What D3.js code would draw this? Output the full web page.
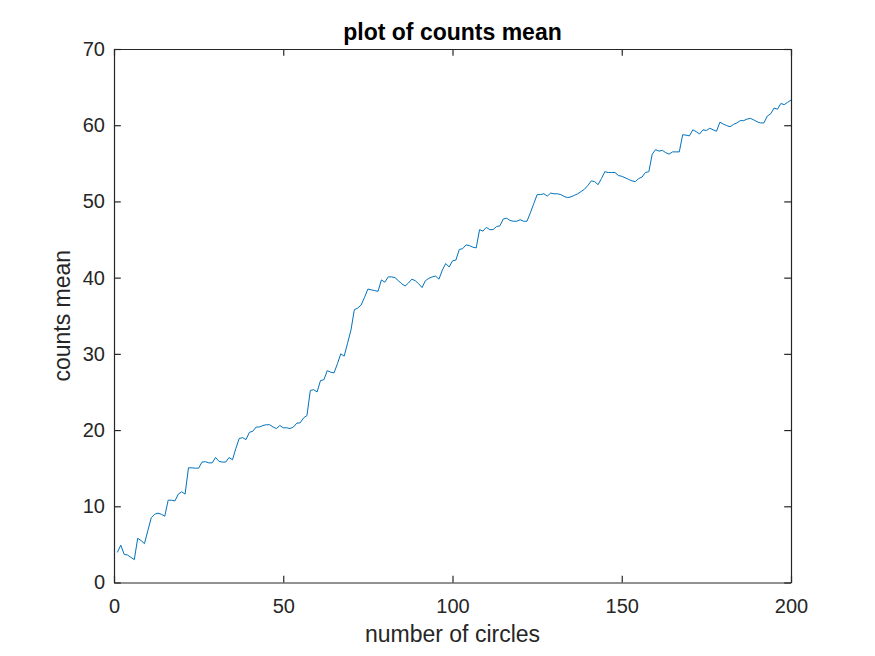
<!DOCTYPE html>
<html>
<head>
<meta charset="utf-8">
<script src="https://cdn.jsdelivr.net/npm/d3@7"></script>
<style>
  body { margin: 0; background: #fff; }
  text { font-family: "Liberation Sans", Arial, sans-serif; fill: #262626; }
</style>
</head>
<body>
<div id="chart"></div>
<script>
// counts mean per number of circles (n = 1..200)
var counts = [
  3.95, 4.9, 3.7, 3.6, 3.3, 3.0, 5.8, 5.5, 5.1, 6.8,
  8.5, 8.95, 9.1, 8.95, 8.7, 10.8, 10.8, 10.7, 11.6, 11.9,
  11.6, 15.05, 15.05, 15.0, 15.0, 15.8, 15.85, 15.7, 15.7, 16.4,
  15.9, 15.8, 15.8, 16.4, 16.1, 17.6, 18.9, 19.0, 18.75, 19.7,
  19.85, 20.4, 20.4, 20.6, 20.7, 20.7, 20.4, 20.2, 20.6, 20.3,
  20.3, 20.2, 20.4, 20.9, 20.95, 21.6, 21.9, 25.2, 25.3, 25.0,
  26.5, 26.6, 27.8, 27.6, 27.5, 28.7, 30.0, 29.7, 31.4, 33.1,
  35.8, 36.0, 36.4, 37.4, 38.5, 38.4, 38.3, 38.2, 39.7, 39.4,
  40.1, 40.1, 40.0, 39.6, 39.2, 38.9, 39.3, 39.8, 39.6, 39.2,
  38.7, 39.6, 39.9, 40.1, 40.2, 39.8, 41.0, 41.85, 41.4, 42.2,
  42.3, 43.7, 43.8, 44.3, 44.2, 44.0, 43.9, 46.3, 46.1, 46.6,
  46.3, 46.3, 46.7, 46.8, 47.7, 47.8, 47.5, 47.4, 47.4, 47.6,
  47.4, 47.4, 48.5, 49.7, 50.9, 50.9, 51.0, 50.7, 51.1, 51.0,
  51.0, 50.9, 50.65, 50.5, 50.6, 50.8, 51.0, 51.3, 51.6, 52.1,
  52.7, 52.6, 52.2, 53.0, 53.9, 53.8, 53.8, 53.8, 53.4, 53.3,
  53.1, 52.9, 52.7, 52.6, 53.0, 53.2, 53.8, 53.9, 56.2, 56.8,
  56.6, 56.7, 56.4, 56.2, 56.5, 56.5, 56.5, 58.75, 58.7, 58.6,
  59.4, 59.15, 58.85, 59.4, 59.3, 59.6, 59.4, 59.2, 60.4, 60.15,
  59.95, 59.8, 60.1, 60.3, 60.6, 60.6, 60.8, 60.9, 60.7, 60.45,
  60.3, 60.3, 61.2, 61.5, 62.25, 62.1, 62.85, 62.7, 63.0, 63.3
];
var circles = d3.range(1, counts.length + 1);

var xTicks = [0, 50, 100, 150, 200];
var yTicks = [0, 10, 20, 30, 40, 50, 60, 70];

var titleText = "plot of counts mean";
var xLabel = "number of circles";
var yLabel = "counts mean";

var W = 875, H = 656;
var pLeft = 114, pRight = 791, pTop = 49, pBottom = 582.5;
var tickLen = 6.8;

var x = d3.scaleLinear().domain([0, 200]).range([pLeft, pRight]);
var y = d3.scaleLinear().domain([0, 70]).range([pBottom, pTop]);

var svg = d3.select("#chart").append("svg")
    .attr("width", W)
    .attr("height", H);

// data line
var line = d3.line()
    .x(function (d, i) { return x(circles[i]); })
    .y(function (d) { return y(d); });

svg.append("path")
    .datum(counts)
    .attr("d", line)
    .attr("fill", "none")
    .attr("stroke", "#0072BD")
    .attr("stroke-width", 1)
    .attr("stroke-linejoin", "round");

// axes (ticks point inward, box all round)
var axisColor = "#262626";

var gx = svg.append("g")
    .attr("transform", "translate(0," + pBottom + ")")
    .call(d3.axisBottom(x).tickValues(xTicks).tickSizeInner(-tickLen).tickSizeOuter(0).tickPadding(16));
var gxTop = svg.append("g")
    .attr("transform", "translate(0," + pTop + ")")
    .call(d3.axisTop(x).tickValues(xTicks).tickSizeInner(-tickLen).tickSizeOuter(0).tickFormat(""));
var gy = svg.append("g")
    .attr("transform", "translate(" + pLeft + ",0)")
    .call(d3.axisLeft(y).tickValues(yTicks).tickSizeInner(-tickLen).tickSizeOuter(0).tickPadding(9));
var gyRight = svg.append("g")
    .attr("transform", "translate(" + pRight + ",0)")
    .call(d3.axisRight(y).tickValues(yTicks).tickSizeInner(-tickLen).tickSizeOuter(0).tickFormat(""));

[gx, gxTop, gy, gyRight].forEach(function (g) {
  g.select(".domain").attr("stroke", axisColor).attr("stroke-width", 1.2);
  g.selectAll(".tick line").attr("stroke", axisColor).attr("stroke-width", 1.2);
  g.selectAll(".tick text")
    .attr("fill", axisColor)
    .style("font-family", "'Liberation Sans', Arial, sans-serif")
    .style("font-size", "20px");
});

// labels
svg.append("text")
    .attr("x", (pLeft + pRight) / 2)
    .attr("y", 642)
    .attr("text-anchor", "middle")
    .style("font-size", "23px")
    .text(xLabel);

svg.append("text")
    .attr("transform", "translate(70," + ((pTop + pBottom) / 2) + ") rotate(-90)")
    .attr("text-anchor", "middle")
    .style("font-size", "23px")
    .text(yLabel);

svg.append("text")
    .attr("x", (pLeft + pRight) / 2)
    .attr("y", 40)
    .attr("text-anchor", "middle")
    .style("font-size", "23px")
    .style("font-weight", "bold")
    .style("fill", "#000")
    .text(titleText);
</script>
</body>
</html>
